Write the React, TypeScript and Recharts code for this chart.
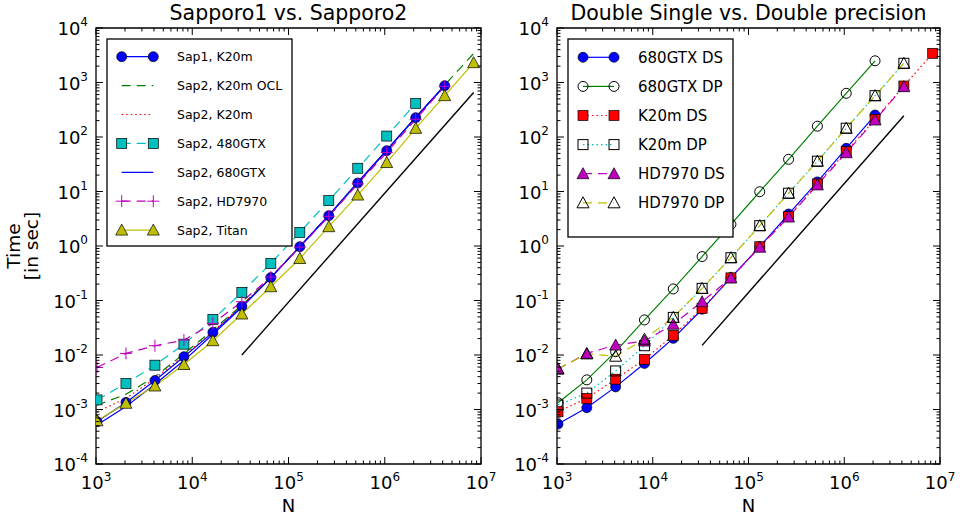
import React from 'react';
import { ComposedChart, Line, XAxis, YAxis, ReferenceArea } from 'recharts';

// problem sizes N = 2^10 ... 2^23
const N = [1024, 2048, 4096, 8192, 16384, 32768, 65536, 131072, 262144, 524288, 1048576, 2097152, 4194304, 8388608];

// left panel: Sapporo1 vs. Sapporo2 (time in sec)
const sap1K20m = [0.0006, 0.00135, 0.0034, 0.0093, 0.026, 0.078, 0.263, 0.97, 3.6, 14.3, 56, 226, 872];
const sap2K20mOcl = [0.0012, 0.0019, 0.004, 0.0105, 0.029, 0.082, 0.27, 0.98, 3.7, 14.5, 57, 230, 900, 3400];
const sap2K20m = [0.00091, 0.0016, 0.0037, 0.0098, 0.027, 0.08, 0.265, 0.97, 3.6, 14.3, 56, 226, 870];
const sap2Gtx480 = [0.0015, 0.003, 0.0065, 0.0158, 0.045, 0.141, 0.48, 1.78, 6.8, 26.7, 104, 415];
const sap2Gtx680 = [0.00052, 0.00113, 0.0029, 0.0079, 0.024, 0.075, 0.26, 0.98, 3.7, 14.8, 58, 232, 880];
const sap2Hd7970 = [0.0059, 0.0107, 0.0148, 0.0188, 0.038, 0.095, 0.27, 0.95, 3.5, 13.8, 52, 211, 850];
const sap2Titan = [0.00062, 0.0013, 0.0027, 0.0067, 0.0183, 0.0565, 0.179, 0.59, 2.26, 8.6, 34, 144, 573, 2310];
const refLeftN = [32768, 8388608];
const refLeftT = [0.01, 655];

// right panel: double single vs. double precision
const gtx680Ds = [0.00054, 0.00108, 0.0026, 0.007, 0.0202, 0.069, 0.263, 0.97, 3.86, 15, 62, 253];
const gtx680Dp = [0.00133, 0.0035, 0.0115, 0.044, 0.163, 0.64, 2.5, 9.9, 39, 158, 634, 2500];
const k20mDs = [0.00091, 0.0016, 0.0036, 0.0083, 0.023, 0.072, 0.26, 0.97, 3.45, 13.7, 54, 211, 863, 3430];
const k20mDp = [0.00121, 0.002, 0.0051, 0.0148, 0.049, 0.167, 0.61, 2.36, 9.3, 36, 145, 573, 2250];
const hd7970Ds = [0.0055, 0.0107, 0.0152, 0.018, 0.0366, 0.095, 0.26, 0.95, 3.4, 13.2, 51.5, 205, 838];
const hd7970Dp = [0.0056, 0.0105, 0.0095, 0.0195, 0.049, 0.167, 0.61, 2.36, 9.3, 36, 145, 573, 2250];
const refRightN = [32768, 4194304];
const refRightT = [0.015, 246];

const xMajor = [1e3, 1e4, 1e5, 1e6, 1e7];
const yMajor = [1e-4, 1e-3, 1e-2, 1e-1, 1, 10, 100, 1000, 10000];
const minorSteps = [2, 3, 4, 5, 6, 7, 8, 9];

const withMinor = (majors: number[]) => {
  const out: number[] = [];
  majors.forEach((m, i) => {
    out.push(m);
    if (i < majors.length - 1) minorSteps.forEach((s) => out.push(m * s));
  });
  return out;
};
const xTicks = withMinor(xMajor);
const yTicks = withMinor(yMajor);

const FONT = '"DejaVu Sans", sans-serif';
const PLOT_H = 436;

const buildRows = (series: Record<string, number[]>, refN: number[], refT: number[]) =>
  N.map((n, i) => {
    const row: Record<string, number | undefined> = { n };
    Object.keys(series).forEach((k) => {
      row[k] = series[k][i];
    });
    const r = refN.indexOf(n);
    row.ref = r >= 0 ? refT[r] : undefined;
    return row;
  });

const leftRows = buildRows(
  { sap1K20m, sap2K20mOcl, sap2K20m, sap2Gtx480, sap2Gtx680, sap2Hd7970, sap2Titan },
  refLeftN,
  refLeftT
);
const rightRows = buildRows({ gtx680Ds, gtx680Dp, k20mDs, k20mDp, hd7970Ds, hd7970Dp }, refRightN, refRightT);

type Kind = 'circle' | 'square' | 'triangle' | 'plus' | 'none';

interface SeriesDef {
  key: string;
  name: string;
  color: string;
  dash?: string;
  marker: Kind;
  open?: boolean;
}

const DASHED = '9 6';
const DOTTED = '1.5 3';

const leftSeries: SeriesDef[] = [
  { key: 'sap1K20m', name: 'Sap1, K20m', color: '#0000ff', marker: 'circle' },
  { key: 'sap2K20mOcl', name: 'Sap2, K20m OCL', color: '#008000', dash: DASHED, marker: 'none' },
  { key: 'sap2K20m', name: 'Sap2, K20m', color: '#ff0000', dash: DOTTED, marker: 'none' },
  { key: 'sap2Gtx480', name: 'Sap2, 480GTX', color: '#00bfbf', dash: DASHED, marker: 'square' },
  { key: 'sap2Gtx680', name: 'Sap2, 680GTX', color: '#0000ff', marker: 'none' },
  { key: 'sap2Hd7970', name: 'Sap2, HD7970', color: '#bf00bf', dash: DASHED, marker: 'plus' },
  { key: 'sap2Titan', name: 'Sap2, Titan', color: '#bfbf00', marker: 'triangle' },
];

const rightSeries: SeriesDef[] = [
  { key: 'gtx680Ds', name: '680GTX DS', color: '#0000ff', marker: 'circle' },
  { key: 'gtx680Dp', name: '680GTX DP', color: '#008000', marker: 'circle', open: true },
  { key: 'k20mDs', name: 'K20m DS', color: '#ff0000', dash: DOTTED, marker: 'square' },
  { key: 'k20mDp', name: 'K20m DP', color: '#00bfbf', dash: DOTTED, marker: 'square', open: true },
  { key: 'hd7970Ds', name: 'HD7970 DS', color: '#bf00bf', dash: DASHED, marker: 'triangle' },
  { key: 'hd7970Dp', name: 'HD7970 DP', color: '#bfbf00', dash: DASHED, marker: 'triangle', open: true },
];

function Marker({ cx, cy, s }: { cx: number; cy: number; s: SeriesDef }) {
  const fill = s.open ? 'none' : s.color;
  const stroke = '#000';
  const sw = s.open ? 1 : 0.7;
  if (s.marker === 'circle') return <circle cx={cx} cy={cy} r={5} fill={fill} stroke={stroke} strokeWidth={sw} />;
  if (s.marker === 'square')
    return <rect x={cx - 5} y={cy - 5} width={10} height={10} fill={fill} stroke={stroke} strokeWidth={sw} />;
  if (s.marker === 'triangle')
    return (
      <polygon
        points={`${cx},${cy - 6} ${cx - 6},${cy + 5} ${cx + 6},${cy + 5}`}
        fill={fill}
        stroke={stroke}
        strokeWidth={sw}
      />
    );
  if (s.marker === 'plus')
    return (
      <g stroke={s.color} strokeWidth={1}>
        <line x1={cx - 6} y1={cy} x2={cx + 6} y2={cy} />
        <line x1={cx} y1={cy - 6} x2={cx} y2={cy + 6} />
      </g>
    );
  return null;
}

const dotFor = (s: SeriesDef) => (p: any) => {
  if (p.cx == null || p.cy == null || p.value == null || s.marker === 'none')
    return <g key={`${s.key}-${p.index}`} />;
  return (
    <g key={`${s.key}-${p.index}`}>
      <Marker cx={p.cx} cy={p.cy} s={s} />
    </g>
  );
};

const isMajor = (v: number) => {
  const e = Math.log10(v);
  return Math.abs(e - Math.round(e)) < 1e-6;
};

const xTick = (props: any) => {
  const { x, y, payload } = props;
  const v = payload.value;
  const major = isMajor(v);
  const len = major ? 7 : 3.5;
  return (
    <g>
      <line x1={x} y1={y} x2={x} y2={y - len} stroke="#000" strokeWidth={1} />
      <line x1={x} y1={y - PLOT_H} x2={x} y2={y - PLOT_H + len} stroke="#000" strokeWidth={1} />
      {major && (
        <text x={x} y={y + 25} textAnchor="middle" fontSize={18} fontFamily={FONT} fill="#000">
          10
          <tspan dy={-8} fontSize={12}>
            {Math.round(Math.log10(v))}
          </tspan>
        </text>
      )}
    </g>
  );
};

const makeYTick = (plotW: number) => (props: any) => {
  const { x, y, payload } = props;
  const v = payload.value;
  const major = isMajor(v);
  const len = major ? 7 : 3.5;
  return (
    <g>
      <line x1={x} y1={y} x2={x + len} y2={y} stroke="#000" strokeWidth={1} />
      <line x1={x + plotW} y1={y} x2={x + plotW - len} y2={y} stroke="#000" strokeWidth={1} />
      {major && (
        <text x={x - 8} y={y + 7} textAnchor="end" fontSize={18} fontFamily={FONT} fill="#000">
          10
          <tspan dy={-9} fontSize={12}>
            {Math.round(Math.log10(v))}
          </tspan>
        </text>
      )}
    </g>
  );
};

interface PanelProps {
  rows: Record<string, number | undefined>[];
  series: SeriesDef[];
  width: number;
  yAxisWidth: number;
  marginRight: number;
  plotW: number;
  yLabel?: boolean;
}

function Panel({ rows, series, width, yAxisWidth, marginRight, plotW, yLabel }: PanelProps) {
  return (
    <ComposedChart
      width={width}
      height={517}
      data={rows}
      margin={{ top: 28, right: marginRight, bottom: 0, left: 0 }}
    >
      <XAxis
        dataKey="n"
        type="number"
        scale="log"
        domain={[1e3, 1e7]}
        allowDataOverflow
        ticks={xTicks}
        interval={0}
        tick={xTick}
        tickLine={false}
        tickSize={0}
        tickMargin={0}
        axisLine={false}
        height={53}
        label={{ value: 'N', position: 'insideBottom', offset: 5, fontSize: 18, fontFamily: FONT, fill: '#000' }}
      />
      <YAxis
        type="number"
        scale="log"
        domain={[1e-4, 1e4]}
        allowDataOverflow
        ticks={yTicks}
        interval={0}
        tick={makeYTick(plotW)}
        tickLine={false}
        tickSize={0}
        tickMargin={0}
        axisLine={false}
        width={yAxisWidth}
        label={
          yLabel
            ? {
                content: () => (
                  <g fontFamily={FONT} fontSize={18.5} fill="#000">
                    <text x={20} y={246} textAnchor="middle" transform="rotate(-90 20 246)">
                      Time
                    </text>
                    <text x={38} y={246} textAnchor="middle" transform="rotate(-90 38 246)">
                      [in sec]
                    </text>
                  </g>
                ),
              }
            : undefined
        }
      />
      {series.map((s) => (
        <Line
          key={s.key}
          dataKey={s.key}
          name={s.name}
          type="linear"
          stroke={s.color}
          strokeWidth={1.2}
          strokeDasharray={s.dash}
          dot={dotFor(s)}
          activeDot={false}
          isAnimationActive={false}
        />
      ))}
      <Line
        dataKey="ref"
        type="linear"
        stroke="#000"
        strokeWidth={1.4}
        dot={false}
        activeDot={false}
        connectNulls
        isAnimationActive={false}
      />
      <ReferenceArea
        x1={1e3}
        x2={1e7}
        y1={1e-4}
        y2={1e4}
        fill="none"
        fillOpacity={0}
        stroke="#000"
        strokeWidth={1.3}
        ifOverflow="visible"
      />
    </ComposedChart>
  );
}

interface LegendProps {
  series: SeriesDef[];
  left: number;
  top: number;
  w: number;
  h: number;
  row0: number;
  rowGap: number;
  l1: number;
  l2: number;
  tx: number;
  fontSize: number;
}

function LegendBox({ series, left, top, w, h, row0, rowGap, l1, l2, tx, fontSize }: LegendProps) {
  return (
    <svg style={{ position: 'absolute', left, top }} width={w + 2} height={h + 2}>
      <rect x={1} y={1} width={w} height={h} fill="#fff" stroke="#000" strokeWidth={1.3} />
      {series.map((s, i) => {
        const y = row0 + i * rowGap;
        return (
          <g key={s.key}>
            <line x1={l1} y1={y} x2={l2} y2={y} stroke={s.color} strokeWidth={1.2} strokeDasharray={s.dash} />
            <Marker cx={l1} cy={y} s={s} />
            <Marker cx={l2} cy={y} s={s} />
            <text x={tx} y={y + fontSize * 0.36} fontSize={fontSize} fontFamily={FONT} fill="#000">
              {s.name}
            </text>
          </g>
        );
      })}
    </svg>
  );
}

const titleStyle: React.CSSProperties = {
  position: 'absolute',
  top: 0,
  fontFamily: FONT,
  fontSize: 20.5,
  lineHeight: '26px',
  textAlign: 'center',
  color: '#000',
  whiteSpace: 'nowrap',
};

export default function App() {
  return (
    <div style={{ position: 'absolute', left: 0, top: 0, width: 960, height: 517, background: '#fff', overflow: 'hidden' }}>
      <div style={{ position: 'absolute', left: 0, top: 0 }}>
        <Panel rows={leftRows} series={leftSeries} width={500} yAxisWidth={96} marginRight={19} plotW={385} yLabel />
      </div>
      <div style={{ position: 'absolute', left: 500, top: 0 }}>
        <Panel rows={rightRows} series={rightSeries} width={460} yAxisWidth={57} marginRight={20} plotW={383} />
      </div>
      <div style={{ ...titleStyle, left: 96, width: 385 }}>Sapporo1 vs. Sapporo2</div>
      <div style={{ ...titleStyle, left: 557, width: 383 }}>Double Single vs. Double precision</div>
      <LegendBox
        series={leftSeries}
        left={106}
        top={38}
        w={185}
        h={207}
        row0={18.7}
        rowGap={28.9}
        l1={15.7}
        l2={47.3}
        tx={71}
        fontSize={12.5}
      />
      <LegendBox
        series={rightSeries}
        left={567}
        top={38}
        w={165}
        h={198}
        row0={19.3}
        rowGap={29.1}
        l1={16}
        l2={47}
        tx={71}
        fontSize={15}
      />
    </div>
  );
}
